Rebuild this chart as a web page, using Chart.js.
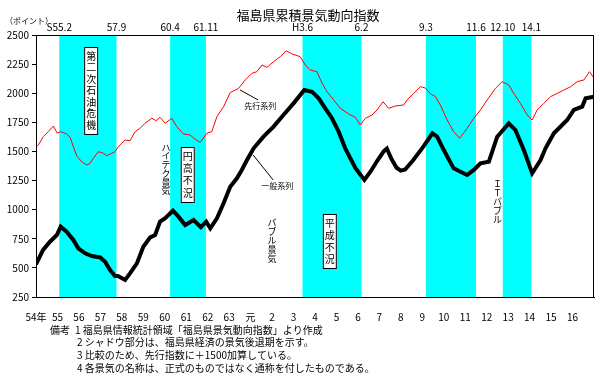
<!DOCTYPE html>
<html>
<head>
<meta charset="utf-8">
<script src="https://cdn.jsdelivr.net/npm/chart.js@4.4.1/dist/chart.umd.min.js"></script>
<style>
  body { margin: 0; background: #fff; }
  canvas { display: block; }
</style>
</head>
<body>
<canvas id="myChart" width="600" height="377"></canvas>
<script>
// tick labels (S54 .. H16)
const yearLabels = ["54年", "55", "56", "57", "58", "59", "60", "61", "62", "63", "元",
  "2", "3", "4", "5", "6", "7", "8", "9", "10", "11", "12", "13", "14", "15", "16"];

// 先行系列 (+1500)
const leadYears = [1979.0, 1979.11, 1979.34, 1979.57, 1979.81, 1979.99, 1980.15, 1980.43, 1980.59, 1980.74,
  1980.9, 1981.13, 1981.36, 1981.52, 1981.67, 1981.91, 1982.14, 1982.3, 1982.53, 1982.68,
  1982.84, 1983.15, 1983.38, 1983.62, 1983.85, 1984.08, 1984.4, 1984.6, 1984.78, 1985.02,
  1985.33, 1985.56, 1985.87, 1986.18, 1986.42, 1986.65, 1986.96, 1987.19, 1987.43, 1987.74,
  1988.05, 1988.44, 1988.75, 1989.06, 1989.29, 1989.53, 1989.76, 1990.07, 1990.38, 1990.66,
  1990.93, 1991.31, 1991.55, 1991.78, 1992.09, 1992.33, 1992.56, 1992.87, 1993.18, 1993.57,
  1993.88, 1994.11, 1994.35, 1994.66, 1994.89, 1995.17, 1995.43, 1995.74, 1996.13, 1996.29,
  1996.6, 1996.91, 1997.14, 1997.38, 1997.61, 1997.84, 1998.16, 1998.46, 1998.74, 1999.09,
  1999.4, 1999.71, 2000.02, 2000.41, 2000.72, 2001.03, 2001.26, 2001.57, 2001.89, 2002.12,
  2002.35, 2002.66, 2002.97, 2003.29, 2003.6, 2003.91, 2004.22, 2004.53, 2004.79, 2005.0];
const leadValues = [1540, 1555, 1627, 1670, 1718, 1656, 1670, 1650, 1621, 1541,
  1461, 1412, 1384, 1398, 1441, 1498, 1484, 1464, 1484, 1498,
  1541, 1598, 1592, 1670, 1699, 1742, 1785, 1764, 1793, 1742,
  1785, 1713, 1650, 1641, 1604, 1578, 1656, 1670, 1799, 1884,
  2006, 2042, 2114, 2171, 2185, 2242, 2222, 2271, 2314, 2365,
  2337, 2314, 2242, 2199, 2185, 2085, 2013, 1942, 1870, 1822,
  1793, 1727, 1785, 1813, 1856, 1927, 1870, 1890, 1899, 1942,
  1999, 2056, 2045, 1995, 1970, 1899, 1770, 1670, 1613, 1699,
  1785, 1856, 1942, 2042, 2099, 2071, 1999, 1913, 1813, 1770,
  1856, 1913, 1970, 1999, 2028, 2056, 2099, 2114, 2185, 2128];

// 一般系列
const coinYears = [1979.0, 1979.33, 1979.65, 1979.97, 1980.15, 1980.43, 1980.74, 1980.97, 1981.29, 1981.6,
  1981.99, 1982.22, 1982.45, 1982.68, 1982.82, 1983.15, 1983.38, 1983.7, 1984.0, 1984.32,
  1984.55, 1984.78, 1985.02, 1985.38, 1985.64, 1985.95, 1986.34, 1986.68, 1986.93, 1987.12,
  1987.43, 1987.74, 1988.05, 1988.36, 1988.59, 1988.83, 1989.14, 1989.6, 1990.07, 1990.53,
  1991.0, 1991.5, 1991.86, 1992.17, 1992.48, 1992.79, 1993.1, 1993.41, 1993.88, 1994.3,
  1994.6, 1994.9, 1995.2, 1995.35, 1995.55, 1995.8, 1996.0, 1996.2, 1996.58, 1997.05,
  1997.47, 1997.69, 1998.0, 1998.46, 1998.78, 1999.09, 1999.4, 1999.71, 2000.1, 2000.49,
  2001.03, 2001.34, 2001.73, 2002.12, 2002.51, 2002.74, 2003.13, 2003.75, 2004.06, 2004.45,
  2004.61, 2005.0];
const coinValues = [530, 654, 725, 782, 854, 811, 740, 668, 625, 602,
  590, 553, 482, 430, 430, 396, 453, 539, 682, 762,
  782, 897, 926, 991, 940, 868, 911, 849, 897, 840,
  926, 1055, 1197, 1269, 1341, 1426, 1527, 1627, 1713, 1813,
  1913, 2028, 2013, 1956, 1870, 1785, 1670, 1527, 1358, 1255,
  1330, 1420, 1500, 1525, 1440, 1360, 1335, 1345, 1426, 1541,
  1656, 1627, 1512, 1355, 1326, 1298, 1341, 1398, 1412, 1627,
  1741, 1684, 1512, 1312, 1426, 1527, 1656, 1770, 1856, 1884,
  1956, 1970];

// 景気後退期 (shadow)
const bandStart = [1980.083, 1985.25, 1991.417, 1997.167, 2000.75];
const bandEnd = [1982.75, 1986.917, 1994.167, 1999.5, 2002.083];
const bandStartLabels = ["S55.2", "60.4", "H3.6", "9.3", "12.10"];
const bandEndLabels = ["57.9", "61.11", "6.2", "11.6", "14.1"];

const notes = [
  "1 福島県情報統計領域「福島県景気動向指数」より作成",
  "2 シャドウ部分は、福島県経済の景気後退期を示す。",
  "3 比較のため、先行指数に＋1500加算している。",
  "4 各景気の名称は、正式のものではなく通称を付したものである。"
];

const FONT = "'Noto Sans CJK JP', 'DejaVu Sans', sans-serif";

function vText(ctx, str, cx, y0, step) {
  [...str].forEach((ch, i) => ctx.fillText(ch, cx, y0 + step * (i + 0.5)));
}

// shadow bands
const bandsPlugin = {
  id: "bands",
  beforeDatasetsDraw(chart) {
    const { ctx, chartArea: { top, bottom }, scales: { x } } = chart;
    ctx.save();
    ctx.fillStyle = "#00ffff";
    bandStart.forEach((s, i) => {
      const x1 = x.getPixelForValue(s);
      const x2 = x.getPixelForValue(bandEnd[i]);
      ctx.fillRect(x1, top, x2 - x1, bottom - top);
    });
    ctx.restore();
  },
};

// frame, labels, notes
const decoPlugin = {
  id: "deco",
  afterDatasetsDraw(chart) {
    const { ctx, chartArea: { left, right, top, bottom }, scales: { x, y } } = chart;
    ctx.save();
    ctx.strokeStyle = "#000";
    ctx.lineWidth = 1;
    ctx.strokeRect(left + 0.5, top + 0.5, right - left - 1, bottom - top);

    ctx.fillStyle = "#000";
    ctx.textAlign = "center";
    ctx.textBaseline = "middle";

    // title
    ctx.font = "13px " + FONT;
    ctx.fillText("福島県累積景気動向指数", 308, 15);
    ctx.font = "8px " + FONT;
    ctx.textAlign = "left";
    ctx.fillText("（ポイント）", 5, 21);

    // band dates
    ctx.textAlign = "center";
    ctx.font = "10px " + FONT;
    bandStart.forEach((s, i) => {
      ctx.fillText(bandStartLabels[i], x.getPixelForValue(s), top - 8);
      ctx.fillText(bandEndLabels[i], x.getPixelForValue(bandEnd[i]), top - 8);
    });

    // boxed names
    const boxes = [
      ["第二次石油危機", 1981.57, 2397, 1650, 10],
      ["円高不況", 1986.07, 1538, 1066, 10],
      ["平成不況", 1992.69, 963, 499, 10],
    ];
    boxes.forEach(([t, yr, v1, v2, fs]) => {
      const cx = x.getPixelForValue(yr);
      const y1 = y.getPixelForValue(v1);
      const y2 = y.getPixelForValue(v2);
      ctx.fillStyle = "#fff";
      ctx.fillRect(cx - 7, y1, 14, y2 - y1);
      ctx.strokeRect(cx - 6.5, y1 + 0.5, 13, y2 - y1);
      ctx.fillStyle = "#000";
      ctx.font = fs + "px " + FONT;
      const step = (y2 - y1 - 6) / [...t].length;
      vText(ctx, t, cx, y1 + 3, step);
    });

    // plain vertical names
    ctx.font = "9px " + FONT;
    const names = [
      ["ハイテク景気", 1985.06, 1573, 8.7],
      ["バブル景気", 1990.0, 928, 9],
      ["ＩＴバブル", 2000.5, 1263, 9],
    ];
    names.forEach(([t, yr, v, step]) => {
      vText(ctx, t, x.getPixelForValue(yr), y.getPixelForValue(v), step);
    });

    // series labels with leader lines
    ctx.font = "8px " + FONT;
    ctx.fillText("一般系列", x.getPixelForValue(1990.24), y.getPixelForValue(1203));
    ctx.fillText("先行系列", x.getPixelForValue(1989.45), y.getPixelForValue(1890));
    ctx.beginPath();
    ctx.moveTo(x.getPixelForValue(1989.12), y.getPixelForValue(1469));
    ctx.lineTo(x.getPixelForValue(1990.05), y.getPixelForValue(1255));
    ctx.moveTo(x.getPixelForValue(1988.51), y.getPixelForValue(2028));
    ctx.lineTo(x.getPixelForValue(1989.35), y.getPixelForValue(1942));
    ctx.stroke();

    // notes
    ctx.textAlign = "left";
    ctx.font = "10px " + FONT;
    ctx.fillText("備考", 50, 330);
    notes.forEach((n, i) => {
      ctx.fillText(n, i === 0 ? 75 : 77, 330 + i * 12.7);
    });
    ctx.restore();
  },
};

function mainChart() {
  const data = {
    datasets: [
      {
        label: "一般系列",
        data: coinYears.map((yr, i) => ({ x: yr, y: coinValues[i] })),
        borderColor: "#000",
        borderWidth: 4,
        pointRadius: 0,
        tension: 0,
      },
      {
        label: "先行系列",
        data: leadYears.map((yr, i) => ({ x: yr, y: leadValues[i] })),
        borderColor: "#ff0000",
        borderWidth: 1,
        pointRadius: 0,
        tension: 0,
      },
    ],
  };

  const options = {
    responsive: false,
    animation: false,
    devicePixelRatio: 1,
    layout: { padding: { top: 35, right: 6, left: 0, bottom: 0 } },
    plugins: {
      legend: { display: false },
      tooltip: { enabled: false },
    },
    scales: {
      x: {
        type: "linear",
        min: 1979,
        max: 2005,
        grid: { display: false },
        border: { display: true, color: "#000" },
        afterBuildTicks: (scale) => {
          scale.ticks = yearLabels.map((l, i) => ({ value: 1979 + i }));
        },
        afterFit: (scale) => { scale.height = 80; },
        ticks: {
          autoSkip: false,
          maxRotation: 0,
          padding: 6,
          color: "#000",
          font: { family: FONT, size: 10 },
          callback: (v) => yearLabels[Math.round(v - 1979)] || "",
        },
      },
      y: {
        min: 250,
        max: 2500,
        grid: { drawOnChartArea: false, drawTicks: true, tickLength: 4, color: "#000" },
        border: { display: true, color: "#000" },
        afterFit: (scale) => { scale.width = 36; },
        ticks: {
          stepSize: 250,
          padding: 3,
          color: "#000",
          font: { family: FONT, size: 10 },
          callback: (v) => String(v),
        },
      },
    },
  };

  const config = {
    type: "line",
    data: data,
    options: options,
    plugins: [bandsPlugin, decoPlugin],
  };

  new Chart(document.getElementById("myChart"), config);
}

mainChart();
</script>
</body>
</html>
